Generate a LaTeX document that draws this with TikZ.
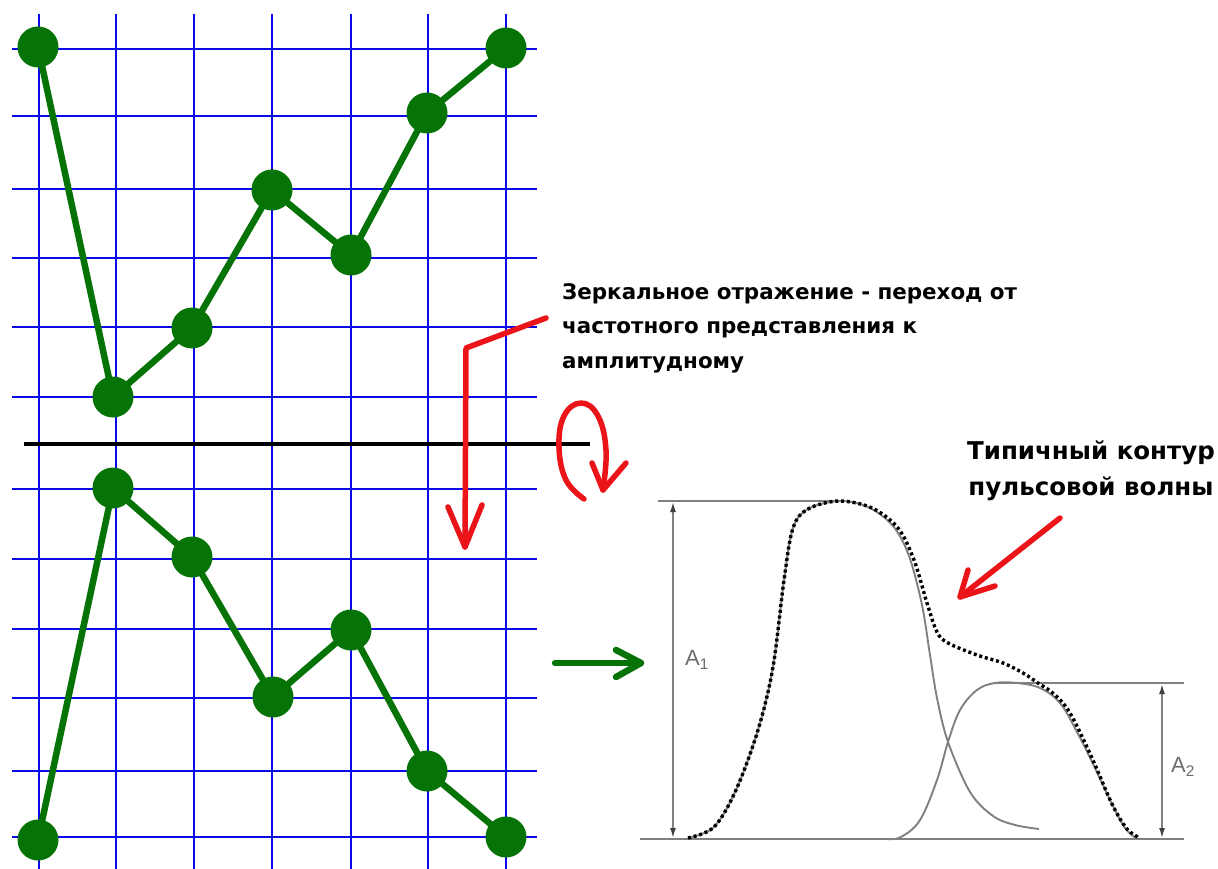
\documentclass[tikz,border=0pt]{standalone}
\usepackage{fontspec}
\newfontfamily\vfont{DejaVu Sans}
\newfontfamily\afont{Liberation Sans}
\usetikzlibrary{arrows.meta}
\definecolor{gridblue}{RGB}{10,10,235}
\definecolor{dotgreen}{RGB}{5,115,5}
\definecolor{markred}{RGB}{235,20,25}
\definecolor{curvegray}{RGB}{128,128,128}
\begin{document}
\begin{tikzpicture}[x=1pt,y=-1pt,
  gridline/.style={draw=gridblue,line width=2.8pt},
  axisline/.style={draw=black,line width=3.6pt},
  dot/.style={circle,fill=dotgreen,minimum size=41pt,inner sep=0pt},
  greenline/.style={draw=dotgreen,line width=6.5pt,line cap=round,line join=round},
  redline/.style={draw=markred,line width=5.5pt,line cap=round,line join=round},
  grayline/.style={draw=curvegray,line width=1.9pt},
  dotline/.style={draw=black,line width=3.4pt,dash pattern=on 3pt off 2.8pt},
  dimarrow/.style={draw=curvegray,line width=1.6pt,{Latex[length=10pt,width=6pt,black!75]}-{Latex[length=10pt,width=6pt,black!75]}},
  labeltext/.style={font=\vfont\bfseries\fontsize{21.4}{34.6}\selectfont,inner sep=0pt,text=black},
  bigtext/.style={font=\vfont\bfseries\fontsize{24.5}{36}\selectfont,inner sep=0pt,text=black},
  alabel/.style={font=\afont\fontsize{22}{22}\selectfont,text=curvegray!85!black,inner sep=0pt}
]
\useasboundingbox (0,0) rectangle (1218,869);
\fill[white] (0,0) rectangle (1218,869);

% grid
\foreach \x in {39,116,194,272,351,428,506} \draw[gridline] (\x,14) -- (\x,869);
\foreach \y in {49,116,189,258,327,397,489,559,629,698,771,837} \draw[gridline] (12,\y) -- (537,\y);

% axis
\coordinate (axL) at (24,444);
\coordinate (axR) at (590,444);
\draw[axisline] (axL) -- (axR);

% top points
\foreach \n/\x/\y in {t1/38/47,t2/113/397,t3/192/328,t4/272/190,t5/351/255,t6/427/113,t7/506/48}
  \node[dot] (\n) at (\x,\y) {};
\draw[greenline] (t1.center) -- (t2.center) -- (t3.center) -- (t4.center) -- (t5.center) -- (t6.center) -- (t7.center);

% bottom points
\foreach \n/\x/\y in {b1/38/840,b2/113/488,b3/192/557,b4/273/697,b5/351/630,b6/427/771,b7/506/837}
  \node[dot] (\n) at (\x,\y) {};
\draw[greenline] (b1.center) -- (b2.center) -- (b3.center) -- (b4.center) -- (b5.center) -- (b6.center) -- (b7.center);

% red arrow (mirror)
\coordinate (r1s) at (546,318);
\coordinate (r1k) at (466,348);
\coordinate (r1e) at (465,547);
\draw[redline] (r1s) -- (r1k) -- (r1e);
\draw[redline] (448,507) -- (r1e) -- (482,505);

% red loop arrow
\coordinate (lpE) at (603,490);
\draw[redline] plot[smooth,tension=0.7] coordinates {(584,499)(566,480)(559,447)(564,416)(581,403)(598,416)(606,450)(lpE)};
\draw[redline] (592,463) -- (lpE) -- (626,463);

% green arrow
\coordinate (gs) at (555,663);
\coordinate (ge) at (641,663);
\draw[greenline] (gs) -- (ge);
\draw[greenline] (616,650) -- (ge) -- (616,677);

% text
\node[labeltext,align=left,anchor=north west] (txt1) at (562,283)
  {Зеркальное отражение - переход от\\частотного представления к\\амплитудному};
\node[bigtext,align=center,anchor=north] (txt2) at (1091,441)
  {Типичный контур\\пульсовой волны};

% red arrow 2
\coordinate (r2s) at (1060,518);
\coordinate (r2e) at (960,597);
\draw[redline] (r2s) -- (r2e);
\draw[redline] (968,570) -- (r2e) -- (995,586);

% pulse figure
\coordinate (bl) at (640,839);
\coordinate (br) at (1184,839);
\draw[grayline] (bl) -- (br);
\coordinate (tl) at (658,501);
\coordinate (tr) at (840,501);
\draw[grayline] (tl) -- (tr);
\coordinate (a2l) at (995,683);
\coordinate (a2r) at (1184,683);
\draw[grayline] (a2l) -- (a2r);
\coordinate (a1t) at (673,502);
\coordinate (a1b) at (673,838);
\draw[dimarrow] (a1t) -- (a1b);
\coordinate (a2t) at (1162,684);
\coordinate (a2b) at (1162,838);
\draw[dimarrow] (a2t) -- (a2b);
\node[alabel] (A1) at (697,660) {A\textsubscript{1}};
\node[alabel] (A2) at (1183,767) {A\textsubscript{2}};

% main wave
\draw[grayline] plot[smooth,tension=0.55] coordinates {(688,838)(714,827)(736,790)(758,730)(773,667)(784,580)(793,528)(808,509)(839,501)(868,507)(893,526)(909,556)(922,605)(930,655)(937,698)(948,742)(970,792)(993,816)(1015,825)(1039,829)};
% second wave
\draw[grayline] plot[smooth,tension=0.6] coordinates {(887,839)(901,837)(920,820)(937,780)(948,742)(960,710)(977,690)(995,683)(1017,683)(1040,688)(1060,703)(1077,732)(1094,766)(1112,804)(1125,828)(1136,838)};
% dotted envelope
\draw[dotline] plot[smooth,tension=0.55] coordinates {(688,838)(714,827)(736,790)(758,730)(773,667)(784,580)(793,528)(808,509)(839,501)(872,508)(898,528)(914,560)(927,603)(937,632)(948,643)(977,655)(1003,663)(1023,673)(1038,683)(1054,694)(1070,713)(1092,758)(1112,804)(1127,829)(1140,838)};
\end{tikzpicture}
\end{document}
